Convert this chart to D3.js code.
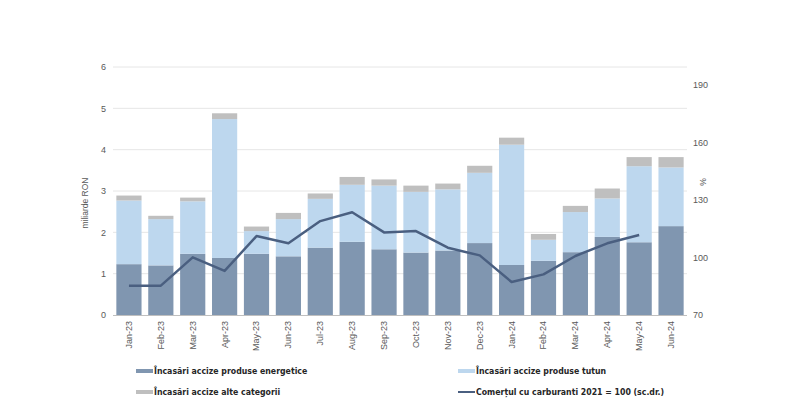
<!DOCTYPE html>
<html><head><meta charset="utf-8">
<script src="https://cdn.jsdelivr.net/npm/d3@7"></script>
<style>
body{margin:0;background:#fff;}
svg{display:block;}
.tick text{font-family:"Liberation Sans",Arial,sans-serif;font-size:9px;fill:#595959;}
.leg{font-family:"DejaVu Sans Condensed",sans-serif;font-size:8.7px;fill:#262626;font-weight:bold;}
</style></head>
<body><svg id="c" width="800" height="400"></svg>
<script>
const months = ["Jan-23","Feb-23","Mar-23","Apr-23","May-23","Jun-23","Jul-23","Aug-23","Sep-23","Oct-23","Nov-23","Dec-23","Jan-24","Feb-24","Mar-24","Apr-24","May-24","Jun-24"];
const energetice = [1.23,1.20,1.48,1.38,1.48,1.42,1.63,1.77,1.59,1.51,1.56,1.74,1.21,1.31,1.52,1.89,1.76,2.15];
const tutun = [1.54,1.12,1.27,3.36,0.55,0.90,1.18,1.38,1.54,1.47,1.48,1.70,2.91,0.51,0.97,0.93,1.84,1.42];
const alte = [0.12,0.08,0.09,0.14,0.11,0.15,0.13,0.19,0.15,0.15,0.14,0.17,0.17,0.14,0.15,0.24,0.22,0.25];
const carburanti = [85.3,85.3,100.1,93,111.2,107.4,119,123.6,113.1,113.8,105.1,101.1,87.2,91.2,100.8,107.4,111.7,null];
const leftTicks = [0,1,2,3,4,5,6];
const rightTicks = [70,100,130,160,190];
const seriesNames = ["Încasări accize produse energetice","Încasări accize produse tutun","Încasări accize alte categorii","Comerțul cu carburanti 2021 = 100 (sc.dr.)"];
const colors = ["#8096b0","#bdd7ee","#bfbfbf","#4a5f80"];

const svg = d3.select("#c");
const x0 = 113, x1 = 687, yTop = 67, yBot = 315;
const x = d3.scaleBand().domain(months).range([x0,x1]).paddingInner(0.21).paddingOuter(0.105);
const y = d3.scaleLinear().domain([0,6]).range([yBot,yTop]);
const y2 = d3.scaleLinear().domain([70,199.4]).range([yBot,yTop]);

svg.append("g").selectAll("line").data(leftTicks.slice(1)).join("line")
  .attr("x1",x0).attr("x2",x1).attr("y1",d=>y(d)).attr("y2",d=>y(d))
  .attr("stroke","#e6e6e6").attr("stroke-width",1);

const rows = months.map((m,i)=>({m, e:energetice[i], t:tutun[i], a:alte[i]}));
const stack = d3.stack().keys(["e","t","a"])(rows);
svg.append("g").selectAll("g").data(stack).join("g")
  .attr("fill",(d,i)=>colors[i])
  .selectAll("rect").data(d=>d).join("rect")
  .attr("x",d=>x(d.data.m)).attr("width",x.bandwidth())
  .attr("y",d=>y(d[1])).attr("height",d=>y(d[0])-y(d[1]));

svg.append("line").attr("x1",x0).attr("x2",x1).attr("y1",yBot+0.5).attr("y2",yBot+0.5).attr("stroke","#bfbfbf");

const la = svg.append("g").attr("transform",`translate(${x0},0)`)
  .call(d3.axisLeft(y).tickValues(leftTicks).tickSize(0).tickPadding(7).tickFormat(d3.format("d")));
la.select(".domain").remove();

const ra = svg.append("g").attr("transform",`translate(${x1},0)`)
  .call(d3.axisRight(y2).tickValues(rightTicks).tickSize(0).tickPadding(6));
ra.select(".domain").remove();

const ba = svg.append("g").attr("transform",`translate(0,${yBot})`)
  .call(d3.axisBottom(x).tickSize(0).tickPadding(0));
ba.select(".domain").remove();
ba.selectAll("text").attr("text-anchor","end").attr("transform","translate(0,6) rotate(-90)").attr("dy","0.32em").attr("dx","0").attr("y",0).attr("x",0);

const line = d3.line().defined(d=>d!=null).x((d,i)=>x(months[i])+x.bandwidth()/2).y(d=>y2(d));
svg.append("path").datum(carburanti).attr("d",line).attr("fill","none")
  .attr("stroke",colors[3]).attr("stroke-width",2.5).attr("stroke-linejoin","round");

svg.append("text").attr("transform","translate(88,203) rotate(-90)").attr("text-anchor","middle")
  .attr("font-family","Liberation Sans, Arial, sans-serif").attr("font-size",8.5).attr("fill","#595959").text("miliarde RON");
svg.append("text").attr("transform","translate(706,182) rotate(-90)").attr("text-anchor","middle")
  .attr("font-family","Liberation Sans, Arial, sans-serif").attr("font-size",8.5).attr("fill","#595959").text("%");

const leg = [
  {n:seriesNames[0], c:colors[0], x:136, y:371, t:"bar"},
  {n:seriesNames[1], c:colors[1], x:458, y:371, t:"bar"},
  {n:seriesNames[2], c:colors[2], x:136, y:392, t:"bar"},
  {n:seriesNames[3], c:colors[3], x:458, y:392, t:"line"}
];
const lg = svg.append("g").selectAll("g").data(leg).join("g").attr("transform",d=>`translate(${d.x},${d.y})`);
lg.append("rect").attr("x",0).attr("width",17).attr("y",d=>d.t==="bar"?-2:-1).attr("height",d=>d.t==="bar"?4:2).attr("fill",d=>d.c);
lg.append("text").attr("class","leg").attr("x",18).attr("dy","0.35em").text(d=>d.n);
</script></body></html>
